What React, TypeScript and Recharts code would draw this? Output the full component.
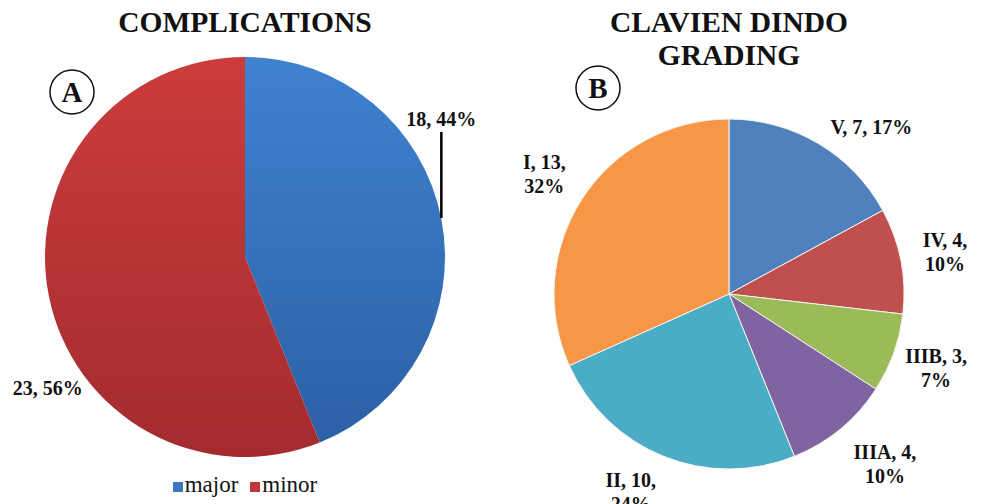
import React from "react"
import { PieChart, Pie, Cell, Legend } from "recharts"

// panel A
const complicationNames = ["major", "minor"]
const complicationValues = [18, 23]

// panel B, clockwise from 12 o'clock
const gradeNames = ["V", "IV", "IIIB", "IIIA", "II", "I"]
const gradeValues = [7, 4, 3, 4, 10, 13]

const complicationColors = ["url(#gradMajor)", "url(#gradMinor)"]
const complicationSwatch = ["#3a76c2", "#c0393a"]
const gradeColors = ["#4f81bd", "#c0504d", "#9bbb59", "#8064a2", "#4bacc6", "#f79646"]

const RADIAN = Math.PI / 180
const FONT = "'Liberation Serif', 'Times New Roman', serif"
const NO_MARGIN = { top: 0, right: 0, bottom: 0, left: 0 }

const complicationData = complicationNames.map((name, i) => ({ name, value: complicationValues[i] }))
const gradeData = gradeNames.map((name, i) => ({ name, value: gradeValues[i] }))
const gradeTotal = gradeValues.reduce((a, b) => a + b, 0)
const complicationTotal = complicationValues.reduce((a, b) => a + b, 0)

// label nudges (px) away from the default spot on the mid angle
const gradeShift: Record<string, [number, number]> = {
  V: [30, 22],
  IIIA: [16, 0],
  II: [-16, -6],
}

const renderGradeLabel = ({ cx, cy, midAngle, outerRadius, name, value }: any) => {
  const r = outerRadius + 45
  const [sx, sy] = gradeShift[name] || [0, 0]
  const x = cx + r * Math.cos(-midAngle * RADIAN) + sx
  const y = cy + r * Math.sin(-midAngle * RADIAN) + sy
  const pct = Math.round((value / gradeTotal) * 100) + "%"
  const common = {
    fill: "#111",
    textAnchor: "middle" as const,
    fontFamily: FONT,
    fontWeight: 700,
    fontSize: 20,
  }
  if (name === "V") {
    return (
      <text x={x} y={y + 7} {...common}>
        {`${name}, ${value}, ${pct}`}
      </text>
    )
  }
  return (
    <text x={x} y={y - 5} {...common}>
      <tspan x={x}>{`${name}, ${value},`}</tspan>
      <tspan x={x} dy={24}>{pct}</tspan>
    </text>
  )
}

const renderComplicationLabel = ({ cx, cy, midAngle, outerRadius, value, index }: any) => {
  const ex = cx + outerRadius * Math.cos(-midAngle * RADIAN)
  const ey = cy + outerRadius * Math.sin(-midAngle * RADIAN)
  const pct = Math.round((value / complicationTotal) * 100) + "%"
  const common = { fill: "#111", fontFamily: FONT, fontWeight: 700, fontSize: 20 }
  if (index === 0) {
    return (
      <g>
        <line x1={ex} y1={ey - 1} x2={ex} y2={ey - 87} stroke="#000" strokeWidth={2.5} />
        <text x={ex} y={ey - 93} textAnchor="middle" {...common}>{`${value}, ${pct}`}</text>
      </g>
    )
  }
  return (
    <text x={ex - 36} y={ey + 100} textAnchor="start" {...common}>{`${value}, ${pct}`}</text>
  )
}

const LegendContent = ({ payload }: any) => (
  <div style={{ display: "flex", justifyContent: "center", fontFamily: FONT, fontSize: 23, color: "#111", lineHeight: "26px" }}>
    {(payload || []).map((p: any, i: number) => (
      <span key={i} style={{ display: "inline-flex", alignItems: "center", margin: "0 6px" }}>
        <span style={{ display: "inline-block", width: 10, height: 10, background: complicationSwatch[i], marginRight: 2, marginTop: 4 }} />
        {p.value}
      </span>
    ))}
  </div>
)

const Circled = ({ x, y, letter }: { x: number; y: number; letter: string }) => (
  <g>
    <circle cx={x} cy={y} r={22} fill="#fff" stroke="#111" strokeWidth={1.5} />
    <text x={x} y={y + 10} textAnchor="middle" fontFamily={FONT} fontWeight={700} fontSize={29} fill="#111">
      {letter}
    </text>
  </g>
)

export default function App() {
  return (
    <div style={{ position: "absolute", left: 0, top: 0, width: 984, height: 504, background: "#fff", overflow: "hidden" }}>
      <svg width={0} height={0} style={{ position: "absolute" }}>
        <defs>
          <linearGradient id="gradMajor" x1="0" y1="0" x2="0" y2="1">
            <stop offset="0%" stopColor="#3f82d0" />
            <stop offset="100%" stopColor="#2c60a6" />
          </linearGradient>
          <linearGradient id="gradMinor" x1="0" y1="0" x2="0" y2="1">
            <stop offset="0%" stopColor="#cc3c3c" />
            <stop offset="100%" stopColor="#a32b2e" />
          </linearGradient>
        </defs>
      </svg>

      <div style={{ position: "absolute", left: 0, top: 0 }}>
        <PieChart width={490} height={504} margin={NO_MARGIN}>
          <Pie
            data={complicationData}
            dataKey="value"
            nameKey="name"
            cx={245}
            cy={257}
            outerRadius={200}
            startAngle={90}
            endAngle={-270}
            stroke="none"
            labelLine={false}
            label={renderComplicationLabel}
            isAnimationActive={false}
          >
            {complicationData.map((d, i) => (
              <Cell key={d.name} fill={complicationColors[i]} />
            ))}
          </Pie>
          <Legend
            content={<LegendContent />}
            wrapperStyle={{ position: "absolute", left: 0, top: 472, width: 490 }}
          />
        </PieChart>
      </div>

      <div style={{ position: "absolute", left: 490, top: 0 }}>
        <PieChart width={494} height={504} margin={NO_MARGIN}>
          <Pie
            data={gradeData}
            dataKey="value"
            nameKey="name"
            cx={239}
            cy={294}
            outerRadius={175}
            startAngle={90}
            endAngle={-270}
            stroke="#f4f4f4"
            strokeWidth={1}
            labelLine={false}
            label={renderGradeLabel}
            isAnimationActive={false}
          >
            {gradeData.map((d, i) => (
              <Cell key={d.name} fill={gradeColors[i]} />
            ))}
          </Pie>
        </PieChart>
      </div>

      <svg width={984} height={504} style={{ position: "absolute", left: 0, top: 0, pointerEvents: "none" }}>
        <text x={245} y={32} textAnchor="middle" fontFamily={FONT} fontWeight={700} fontSize={29.5} fill="#111">
          COMPLICATIONS
        </text>
        <text x={729} y={32} textAnchor="middle" fontFamily={FONT} fontWeight={700} fontSize={29.5} fill="#111">
          CLAVIEN DINDO
        </text>
        <text x={729} y={65} textAnchor="middle" fontFamily={FONT} fontWeight={700} fontSize={29.5} fill="#111">
          GRADING
        </text>
        <Circled x={72} y={92} letter="A" />
        <Circled x={598} y={88} letter="B" />
      </svg>
    </div>
  )
}
